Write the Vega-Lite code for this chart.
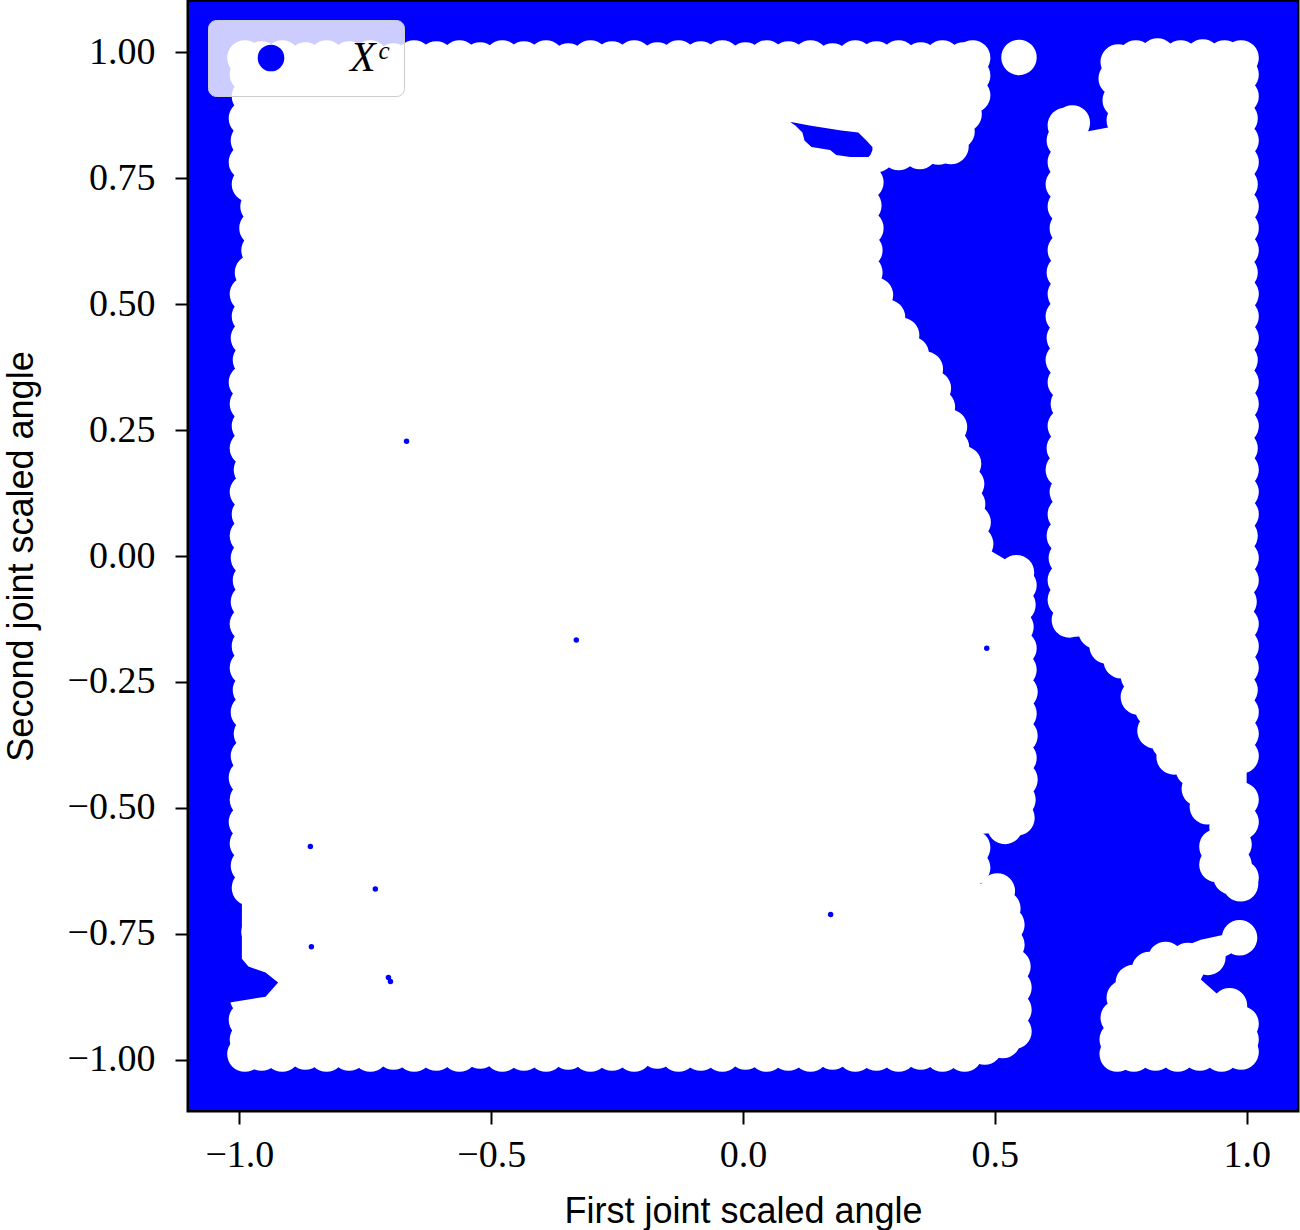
{
  "$schema": "https://vega.github.io/schema/vega-lite/v6.json",
  "width": 1108,
  "height": 1108,
  "autosize": "none",
  "padding": {"left": 189, "top": 2, "right": 3, "bottom": 120},
  "background": "white",
  "config": {
    "view": {"stroke": "black", "strokeWidth": 5},
    "axis": {
      "domain": false, "grid": false, "tickColor": "black", "tickWidth": 2, "tickSize": 14,
      "labelColor": "black", "titleColor": "black", "labelFont": "Liberation Serif", "labelFontSize": 38,
      "titleFont": "Liberation Sans", "titleFontSize": 36, "titleFontWeight": "normal"
    }
  },
  "datasets": {
    "bg": [{"set": "Xᶜ", "x": -1.1, "x2": 1.1, "y": -1.1, "y2": 1.1}],
    "regions": [
      {"r":"A","y":1.000,"x":-0.995,"x2":0.467},
      {"r":"A","y":0.915,"x":-0.995,"x2":0.467},
      {"r":"A","y":0.885,"x":-0.995,"x2":0.448},
      {"r":"A","y":0.855,"x":-0.995,"x2":0.434},
      {"r":"A","y":0.829,"x":-0.995,"x2":0.428},
      {"r":"A","y":0.813,"x":-0.995,"x2":0.402},
      {"r":"A","y":0.802,"x":-0.995,"x2":0.362},
      {"r":"A","y":0.790,"x":-0.995,"x2":0.313},
      {"r":"A","y":0.786,"x":-0.995,"x2":0.255},
      {"r":"A","y":0.706,"x":-0.995,"x2":0.255},
      {"r":"A","y":0.694,"x":-0.974,"x2":0.255},
      {"r":"A","y":0.573,"x":-0.974,"x2":0.255},
      {"r":"A","y":0.562,"x":-0.995,"x2":0.255},
      {"r":"A","y":0.538,"x":-0.995,"x2":0.255},
      {"r":"A","y":0.522,"x":-0.995,"x2":0.273},
      {"r":"A","y":0.468,"x":-0.995,"x2":0.297},
      {"r":"A","y":0.448,"x":-0.995,"x2":0.323},
      {"r":"A","y":0.409,"x":-0.995,"x2":0.343},
      {"r":"A","y":0.379,"x":-0.995,"x2":0.372},
      {"r":"A","y":0.339,"x":-0.995,"x2":0.388},
      {"r":"A","y":0.300,"x":-0.995,"x2":0.396},
      {"r":"A","y":0.260,"x":-0.995,"x2":0.420},
      {"r":"A","y":0.220,"x":-0.995,"x2":0.424},
      {"r":"A","y":0.190,"x":-0.995,"x2":0.448},
      {"r":"A","y":0.151,"x":-0.995,"x2":0.454},
      {"r":"A","y":0.111,"x":-0.995,"x2":0.456},
      {"r":"A","y":0.081,"x":-0.995,"x2":0.467},
      {"r":"A","y":0.022,"x":-0.995,"x2":0.472},
      {"r":"A","y":-0.020,"x":-0.995,"x2":0.543},
      {"r":"A","y":-0.048,"x":-0.995,"x2":0.559},
      {"r":"A","y":-0.524,"x":-0.995,"x2":0.559},
      {"r":"A","y":-0.548,"x":-0.995,"x2":0.531},
      {"r":"A","y":-0.552,"x":-0.995,"x2":0.467},
      {"r":"A","y":-0.651,"x":-0.995,"x2":0.467},
      {"r":"A","y":-0.655,"x":-0.995,"x2":0.511},
      {"r":"A","y":-0.692,"x":-0.995,"x2":0.527},
      {"r":"A","y":-0.732,"x":-0.995,"x2":0.535},
      {"r":"A","y":-0.772,"x":-0.995,"x2":0.535},
      {"r":"A","y":-0.812,"x":-0.995,"x2":0.547},
      {"r":"A","y":-0.940,"x":-0.995,"x2":0.549},
      {"r":"A","y":-0.970,"x":-0.995,"x2":0.527},
      {"r":"A","y":-0.984,"x":-0.995,"x2":0.488},
      {"r":"A","y":-1.000,"x":-0.995,"x2":0.444},

      {"r":"D","y":1.000,"x":0.780,"x2":1.0},
      {"r":"D","y":0.992,"x":0.734,"x2":1.0},
      {"r":"D","y":0.944,"x":0.730,"x2":1.0},
      {"r":"D","y":0.905,"x":0.738,"x2":1.0},
      {"r":"D","y":0.855,"x":0.746,"x2":1.0},
      {"r":"D","y":0.835,"x":0.641,"x2":1.0},
      {"r":"D","y":0.825,"x":0.627,"x2":1.0},
      {"r":"D","y":-0.127,"x":0.627,"x2":1.0},
      {"r":"D","y":-0.131,"x":0.654,"x2":1.0},
      {"r":"D","y":-0.155,"x":0.692,"x2":1.0},
      {"r":"D","y":-0.185,"x":0.714,"x2":1.0},
      {"r":"D","y":-0.214,"x":0.742,"x2":1.0},
      {"r":"D","y":-0.244,"x":0.776,"x2":1.0},
      {"r":"D","y":-0.296,"x":0.776,"x2":1.0},
      {"r":"D","y":-0.306,"x":0.805,"x2":1.0},
      {"r":"D","y":-0.353,"x":0.809,"x2":1.0},
      {"r":"D","y":-0.365,"x":0.837,"x2":1.0},
      {"r":"D","y":-0.389,"x":0.837,"x2":1.0},
      {"r":"D","y":-0.405,"x":0.847,"x2":1.0},
      {"r":"D","y":-0.425,"x":0.885,"x2":1.0},
      {"r":"D","y":-0.502,"x":0.913,"x2":1.0},
      {"r":"D","y":-0.544,"x":0.952,"x2":0.988},
      {"r":"D","y":-0.573,"x":0.932,"x2":0.984},
      {"r":"D","y":-0.613,"x":0.932,"x2":0.988},
      {"r":"D","y":-0.639,"x":0.958,"x2":1.0},
      {"r":"D","y":-0.657,"x":0.984,"x2":0.992},

      {"r":"E","y":-0.750,"x":0.964,"x2":0.988},
      {"r":"E","y":-0.762,"x":0.909,"x2":0.996},
      {"r":"E","y":-0.790,"x":0.839,"x2":0.968},
      {"r":"E","y":-0.813,"x":0.799,"x2":0.923},
      {"r":"E","y":-0.841,"x":0.770,"x2":0.909},
      {"r":"E","y":-0.877,"x":0.750,"x2":0.950},
      {"r":"E","y":-0.889,"x":0.742,"x2":0.974},
      {"r":"E","y":-0.929,"x":0.732,"x2":1.0},
      {"r":"E","y":-0.996,"x":0.732,"x2":1.0},
      {"r":"E","y":-1.000,"x":0.732,"x2":0.950}
    ],
    "dots": [
      {"x":-0.989,"y":0.989},{"x":-0.956,"y":0.987},{"x":-0.915,"y":0.989},{"x":-0.869,"y":0.985},{"x":-0.827,"y":0.989},
      {"x":-0.782,"y":0.987},{"x":-0.740,"y":0.989},{"x":-0.694,"y":0.983},{"x":-0.653,"y":0.989},{"x":-0.609,"y":0.987},
      {"x":-0.563,"y":0.989},{"x":-0.522,"y":0.985},{"x":-0.478,"y":0.989},{"x":-0.435,"y":0.987},{"x":-0.391,"y":0.989},
      {"x":-0.347,"y":0.983},{"x":-0.303,"y":0.989},{"x":-0.260,"y":0.987},{"x":-0.216,"y":0.989},{"x":-0.170,"y":0.985},
      {"x":-0.128,"y":0.989},{"x":-0.084,"y":0.987},{"x":-0.041,"y":0.989},{"x":0.005,"y":0.985},{"x":0.047,"y":0.989},
      {"x":0.090,"y":0.987},{"x":0.134,"y":0.989},{"x":0.178,"y":0.983},{"x":0.223,"y":0.989},{"x":0.265,"y":0.987},
      {"x":0.309,"y":0.989},{"x":0.353,"y":0.985},{"x":0.396,"y":0.989},{"x":0.438,"y":0.985},{"x":0.456,"y":0.989},

      {"x":0.456,"y":0.954},{"x":0.456,"y":0.915},{"x":0.439,"y":0.877},{"x":0.425,"y":0.843},{"x":0.413,"y":0.813},
      {"x":0.388,"y":0.812},{"x":0.351,"y":0.803},{"x":0.309,"y":0.801},{"x":0.265,"y":0.797},
      {"x":0.244,"y":0.742},{"x":0.240,"y":0.696},{"x":0.244,"y":0.651},{"x":0.242,"y":0.607},{"x":0.242,"y":0.563},
      {"x":0.263,"y":0.518},{"x":0.287,"y":0.474},{"x":0.315,"y":0.438},{"x":0.334,"y":0.401},{"x":0.362,"y":0.371},
      {"x":0.378,"y":0.333},{"x":0.386,"y":0.296},{"x":0.410,"y":0.256},{"x":0.414,"y":0.216},{"x":0.438,"y":0.183},
      {"x":0.444,"y":0.143},{"x":0.446,"y":0.103},{"x":0.457,"y":0.067},{"x":0.462,"y":0.024},

      {"x":0.543,"y":-0.033},{"x":0.548,"y":-0.058},{"x":0.546,"y":-0.097},{"x":0.542,"y":-0.141},{"x":0.548,"y":-0.183},
      {"x":0.548,"y":-0.226},{"x":0.550,"y":-0.270},{"x":0.548,"y":-0.313},{"x":0.550,"y":-0.357},{"x":0.548,"y":-0.401},
      {"x":0.550,"y":-0.444},{"x":0.546,"y":-0.484},{"x":0.544,"y":-0.520},{"x":0.520,"y":-0.537},
      {"x":0.456,"y":-0.579},{"x":0.456,"y":-0.619},
      {"x":0.505,"y":-0.665},{"x":0.516,"y":-0.700},{"x":0.524,"y":-0.732},{"x":0.524,"y":-0.772},{"x":0.536,"y":-0.815},
      {"x":0.538,"y":-0.857},{"x":0.538,"y":-0.901},{"x":0.538,"y":-0.944},{"x":0.516,"y":-0.962},{"x":0.480,"y":-0.975},
      {"x":0.440,"y":-0.989},

      {"x":-0.989,"y":-0.989},{"x":-0.956,"y":-0.987},{"x":-0.915,"y":-0.989},{"x":-0.869,"y":-0.985},{"x":-0.827,"y":-0.989},
      {"x":-0.782,"y":-0.987},{"x":-0.740,"y":-0.989},{"x":-0.694,"y":-0.985},{"x":-0.653,"y":-0.989},{"x":-0.609,"y":-0.987},
      {"x":-0.563,"y":-0.989},{"x":-0.522,"y":-0.983},{"x":-0.478,"y":-0.989},{"x":-0.435,"y":-0.987},{"x":-0.391,"y":-0.989},
      {"x":-0.347,"y":-0.985},{"x":-0.303,"y":-0.989},{"x":-0.260,"y":-0.987},{"x":-0.216,"y":-0.989},{"x":-0.170,"y":-0.983},
      {"x":-0.128,"y":-0.989},{"x":-0.084,"y":-0.987},{"x":-0.041,"y":-0.989},{"x":0.005,"y":-0.985},{"x":0.047,"y":-0.989},
      {"x":0.090,"y":-0.987},{"x":0.134,"y":-0.989},{"x":0.178,"y":-0.985},{"x":0.223,"y":-0.989},{"x":0.265,"y":-0.987},
      {"x":0.309,"y":-0.989},{"x":0.353,"y":-0.985},{"x":0.396,"y":-0.989},

      {"x":-0.984,"y":0.956},{"x":-0.980,"y":0.913},{"x":-0.986,"y":0.869},{"x":-0.982,"y":0.825},{"x":-0.986,"y":0.782},
      {"x":-0.980,"y":0.738},{"x":-0.963,"y":0.694},{"x":-0.965,"y":0.651},{"x":-0.961,"y":0.607},{"x":-0.974,"y":0.563},
      {"x":-0.984,"y":0.520},{"x":-0.980,"y":0.476},{"x":-0.982,"y":0.433},{"x":-0.978,"y":0.389},{"x":-0.986,"y":0.345},
      {"x":-0.984,"y":0.302},{"x":-0.980,"y":0.258},{"x":-0.984,"y":0.214},{"x":-0.976,"y":0.171},{"x":-0.984,"y":0.127},
      {"x":-0.980,"y":0.083},{"x":-0.984,"y":0.040},{"x":-0.982,"y":-0.004},{"x":-0.978,"y":-0.048},{"x":-0.982,"y":-0.091},
      {"x":-0.984,"y":-0.135},{"x":-0.980,"y":-0.179},{"x":-0.984,"y":-0.222},{"x":-0.978,"y":-0.266},{"x":-0.982,"y":-0.310},
      {"x":-0.976,"y":-0.353},{"x":-0.982,"y":-0.397},{"x":-0.986,"y":-0.440},{"x":-0.984,"y":-0.484},{"x":-0.986,"y":-0.528},
      {"x":-0.984,"y":-0.571},{"x":-0.982,"y":-0.615},{"x":-0.980,"y":-0.659},{"x":-0.959,"y":-0.702},{"x":-0.961,"y":-0.746},
      {"x":-0.959,"y":-0.790},{"x":-0.984,"y":-0.833},{"x":-0.984,"y":-0.877},{"x":-0.986,"y":-0.921},{"x":-0.984,"y":-0.960},

      {"x":0.780,"y":0.989},{"x":0.823,"y":0.993},{"x":0.869,"y":0.989},{"x":0.913,"y":0.991},{"x":0.956,"y":0.989},{"x":0.989,"y":0.989},
      {"x":0.745,"y":0.981},{"x":0.741,"y":0.948},{"x":0.749,"y":0.905},{"x":0.757,"y":0.865},
      {"x":0.640,"y":0.855},{"x":0.654,"y":0.860},
      {"x":0.638,"y":0.825},{"x":0.640,"y":0.782},{"x":0.636,"y":0.738},{"x":0.640,"y":0.694},{"x":0.644,"y":0.651},
      {"x":0.640,"y":0.607},{"x":0.638,"y":0.563},{"x":0.640,"y":0.520},{"x":0.636,"y":0.476},{"x":0.638,"y":0.433},
      {"x":0.636,"y":0.389},{"x":0.640,"y":0.345},{"x":0.646,"y":0.302},{"x":0.640,"y":0.258},{"x":0.638,"y":0.214},
      {"x":0.636,"y":0.171},{"x":0.644,"y":0.127},{"x":0.640,"y":0.083},{"x":0.638,"y":0.040},{"x":0.642,"y":-0.004},
      {"x":0.640,"y":-0.048},{"x":0.640,"y":-0.087},{"x":0.648,"y":-0.127},
      {"x":0.663,"y":-0.125},{"x":0.701,"y":-0.149},{"x":0.723,"y":-0.179},{"x":0.751,"y":-0.208},{"x":0.785,"y":-0.238},
      {"x":0.785,"y":-0.280},{"x":0.814,"y":-0.304},{"x":0.818,"y":-0.347},{"x":0.846,"y":-0.369},{"x":0.856,"y":-0.399},
      {"x":0.894,"y":-0.423},{"x":0.906,"y":-0.462},{"x":0.922,"y":-0.498},{"x":0.961,"y":-0.538},{"x":0.941,"y":-0.577},
      {"x":0.941,"y":-0.613},{"x":0.969,"y":-0.637},{"x":0.988,"y":-0.651},
      {"x":0.989,"y":0.956},{"x":0.989,"y":0.913},{"x":0.987,"y":0.869},{"x":0.989,"y":0.825},{"x":0.989,"y":0.782},
      {"x":0.987,"y":0.738},{"x":0.989,"y":0.694},{"x":0.989,"y":0.651},{"x":0.989,"y":0.607},{"x":0.987,"y":0.563},
      {"x":0.989,"y":0.520},{"x":0.989,"y":0.476},{"x":0.989,"y":0.433},{"x":0.987,"y":0.389},{"x":0.989,"y":0.345},
      {"x":0.989,"y":0.302},{"x":0.989,"y":0.258},{"x":0.987,"y":0.214},{"x":0.989,"y":0.171},{"x":0.989,"y":0.127},
      {"x":0.989,"y":0.083},{"x":0.987,"y":0.040},{"x":0.989,"y":-0.004},{"x":0.989,"y":-0.048},{"x":0.985,"y":-0.091},
      {"x":0.989,"y":-0.135},{"x":0.989,"y":-0.179},{"x":0.989,"y":-0.222},{"x":0.987,"y":-0.266},{"x":0.989,"y":-0.310},
      {"x":0.989,"y":-0.353},{"x":0.989,"y":-0.397},{"x":0.989,"y":-0.484},{"x":0.989,"y":-0.528},{"x":0.975,"y":-0.573},
      {"x":0.975,"y":-0.613},{"x":0.989,"y":-0.639},

      {"x":0.743,"y":-0.989},{"x":0.776,"y":-0.989},{"x":0.819,"y":-0.987},{"x":0.863,"y":-0.989},{"x":0.907,"y":-0.987},
      {"x":0.950,"y":-0.989},{"x":0.989,"y":-0.985},{"x":0.989,"y":-0.960},{"x":0.989,"y":-0.929},{"x":0.966,"y":-0.893},
      {"x":0.743,"y":-0.960},{"x":0.745,"y":-0.917},{"x":0.757,"y":-0.877},{"x":0.775,"y":-0.847},{"x":0.807,"y":-0.821},
      {"x":0.839,"y":-0.801},{"x":0.883,"y":-0.803},{"x":0.923,"y":-0.797},{"x":0.986,"y":-0.758},

      {"x":0.548,"y":0.990}
    ],
    "holes": [
      {"r":"N","y":0.861,"x":0.094,"x2":0.098},
      {"r":"N","y":0.855,"x":0.104,"x2":0.132},
      {"r":"N","y":0.845,"x":0.114,"x2":0.195},
      {"r":"N","y":0.841,"x":0.118,"x2":0.229},
      {"r":"N","y":0.825,"x":0.122,"x2":0.245},
      {"r":"N","y":0.812,"x":0.136,"x2":0.257},
      {"r":"N","y":0.806,"x":0.173,"x2":0.257},
      {"r":"N","y":0.796,"x":0.185,"x2":0.253},
      {"r":"N","y":0.792,"x":0.213,"x2":0.249},
      {"r":"L","y":-0.669,"x":-1.048,"x2":-1.022},
      {"r":"L","y":-0.696,"x":-1.048,"x2":-0.996},
      {"r":"L","y":-0.796,"x":-1.048,"x2":-0.998},
      {"r":"L","y":-0.815,"x":-1.048,"x2":-0.982},
      {"r":"L","y":-0.827,"x":-1.048,"x2":-0.948},
      {"r":"L","y":-0.847,"x":-1.048,"x2":-0.923},
      {"r":"L","y":-0.875,"x":-1.048,"x2":-0.948},
      {"r":"L","y":-0.887,"x":-1.048,"x2":-1.022}
    ],
    "specks": [
      {"x": -0.704, "y": -0.837},
      {"x": -0.700, "y": -0.845},
      {"x": -0.857, "y": -0.776},
      {"x": -0.668, "y": 0.228},
      {"x": -0.331, "y": -0.167},
      {"x": -0.859, "y": -0.577},
      {"x": -0.730, "y": -0.661},
      {"x": 0.174, "y": -0.712},
      {"x": 0.484, "y": -0.183}
    ]
  },
  "encoding": {
    "x": {
      "field": "x", "type": "quantitative",
      "scale": {"domain": [-1.1, 1.1], "nice": false, "zero": false},
      "axis": {"values": [-1, -0.5, 0, 0.5, 1], "format": ".1f", "title": "First joint scaled angle", "labelPadding": 12, "titlePadding": 20}
    },
    "y": {
      "field": "y", "type": "quantitative",
      "scale": {"domain": [-1.1, 1.1], "nice": false, "zero": false},
      "axis": {"values": [-1, -0.75, -0.5, -0.25, 0, 0.25, 0.5, 0.75, 1], "format": ".2f", "title": "Second joint scaled angle", "labelPadding": 20, "titlePadding": 27}
    }
  },
  "layer": [
    {
      "data": {"name": "bg"},
      "mark": {"type": "rect", "clip": true},
      "encoding": {
        "x2": {"field": "x2"},
        "y2": {"field": "y2"},
        "color": {
          "field": "set", "type": "nominal",
          "scale": {"range": ["#0000ff"]},
          "legend": {
            "title": null, "orient": "none", "legendX": 19, "legendY": 18,
            "symbolType": "circle", "symbolSize": 707, "symbolOffset": 25, "symbolStrokeWidth": 0, "symbolOpacity": 1,
            "labelOffset": 58, "labelFont": "Liberation Serif", "labelFontStyle": "italic", "labelFontSize": 42, "labelColor": "black",
            "padding": 17, "fillColor": "rgba(255,255,255,0.8)", "strokeColor": "#cccccc", "cornerRadius": 8
          }
        }
      }
    },
    {
      "data": {"name": "regions"},
      "mark": {"type": "area", "orient": "horizontal", "color": "white", "opacity": 1, "interpolate": "linear", "clip": true},
      "encoding": {
        "x2": {"field": "x2"},
        "detail": {"field": "r", "type": "nominal"}
      }
    },
    {
      "data": {"name": "dots"},
      "mark": {"type": "circle", "color": "white", "opacity": 1, "size": 1257, "clip": true},
      "encoding": {}
    },
    {
      "data": {"name": "holes"},
      "mark": {"type": "area", "orient": "horizontal", "color": "#0000ff", "opacity": 1, "interpolate": "linear", "clip": true},
      "encoding": {
        "x2": {"field": "x2"},
        "detail": {"field": "r", "type": "nominal"}
      }
    },
    {
      "data": {"name": "specks"},
      "mark": {"type": "circle", "color": "#0000ff", "opacity": 1, "size": 30, "clip": true},
      "encoding": {}
    }
  ]
}
